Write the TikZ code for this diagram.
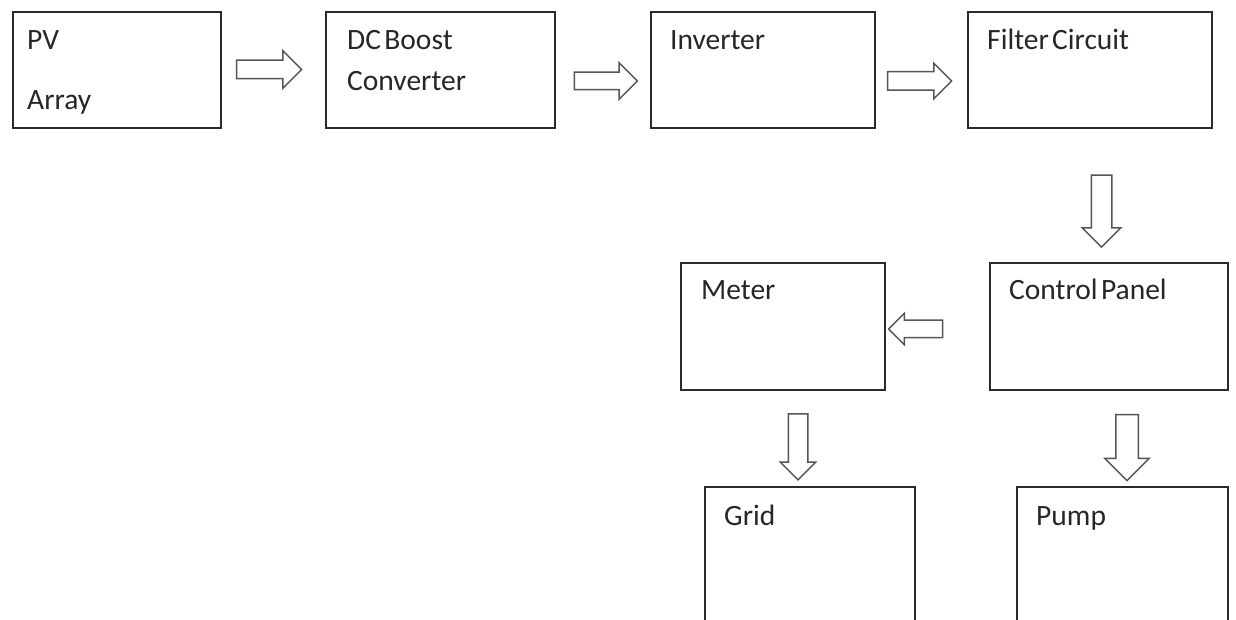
\documentclass[tikz,border=0pt]{standalone}
\usepackage{fontspec}
\setmainfont{Carlito}[WordSpace=0.5]
\usepackage{xcolor}
\usepackage{tikz}
\usetikzlibrary{shapes.arrows}

\definecolor{boxline}{HTML}{2B2B2B}
\definecolor{arrowline}{HTML}{555555}
\definecolor{txtcol}{HTML}{262626}

\begin{document}
\begin{tikzpicture}[x=1pt, y=1pt,
        box/.style={rectangle, draw=boxline, line width=1.8pt, inner sep=0pt,
        anchor=north west},
        txt/.style={inner sep=0pt, anchor=base west, text=txtcol,
        font=\fontsize{29.5}{35}\selectfont},
        flow/.style={single arrow, draw=arrowline, fill=white, line width=1.5pt,
        minimum width=1pt}]
        \useasboundingbox (0,0) rectangle (1236,619);
        \clip (0,0) rectangle (1236,619);

        \node[box, minimum width=208pt, minimum height=116pt] (pv) at (12,608) {};
        \node[box, minimum width=229pt, minimum height=116pt] (boost) at (325,608) {};
        \node[box, minimum width=224pt, minimum height=116pt] (inverter) at (650,608) {};
        \node[box, minimum width=244pt, minimum height=116pt] (filter) at (967,608) {};
        \node[box, minimum width=204pt, minimum height=127pt] (meter) at (680,357) {};
        \node[box, minimum width=238pt, minimum height=127pt] (control) at (989,357) {};
        \node[box, minimum width=210pt, minimum height=160pt] (grid) at (704,133) {};
        \node[box, minimum width=211pt, minimum height=160pt] (pump) at (1016,133) {};

        \node[txt] (pvtxt) at (27,569) {PV};
        \node[txt] (arraytxt) at (27,509) {Array};
        \node[txt] (boosttxt) at (347,569) {DC Boost};
        \node[txt] (convtxt) at (347,528) {Converter};
        \node[txt] (invtxt) at (670,569) {Inverter};
        \node[txt] (filtertxt) at (987,569) {Filter Circuit};
        \node[txt] (metertxt) at (701,319) {Meter};
        \node[txt] (controltxt) at (1009,319) {Control Panel};
        \node[txt] (gridtxt) at (724,94) {Grid};
        \node[txt] (pumptxt) at (1036,94) {Pump};

        \node[flow, minimum height=65pt, inner sep=8.5pt,
        single arrow head extend=9.5pt] (pvboost) at (264.5,549.5) {};
        \node[flow, minimum height=63pt, inner sep=8pt,
        single arrow head extend=9.5pt] (boostinv) at (601.5,538) {};
        \node[flow, minimum height=64pt, inner sep=8.5pt,
        single arrow head extend=8.5pt] (invfilter) at (915,538) {};
        \node[flow, minimum height=72pt, inner sep=9.5pt, rotate=-90,
        single arrow head extend=9pt] (filtercontrol) at (1101.5,413) {};
        \node[flow, minimum height=54pt, inner sep=8pt, rotate=180,
        single arrow head extend=7pt] (controlmeter) at (920,290) {};
        \node[flow, minimum height=66pt, inner sep=9pt, rotate=-90,
        single arrow head extend=8pt] (metergrid) at (798,177) {};
        \node[flow, minimum height=66pt, inner sep=10.5pt, rotate=-90,
        single arrow head extend=11pt] (controlpump) at (1127,177) {};
    \end{tikzpicture}
\end{document}
